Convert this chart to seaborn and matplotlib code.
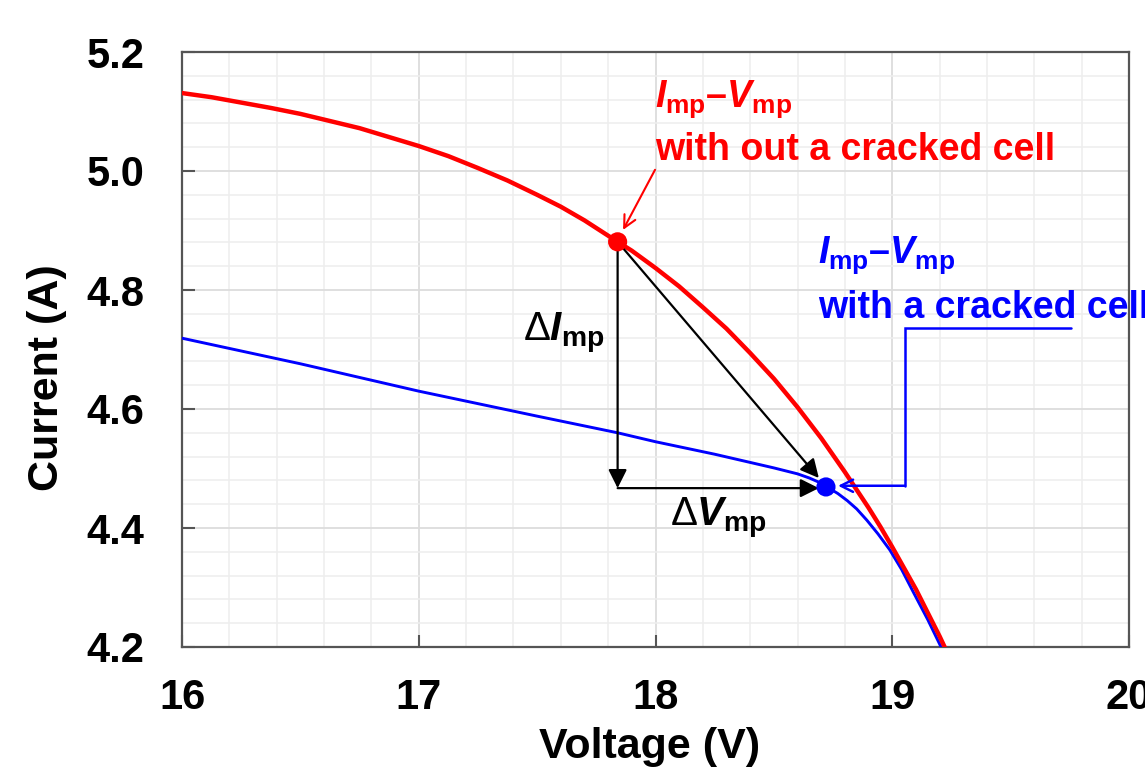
import matplotlib
matplotlib.use("Agg")
import matplotlib.pyplot as plt
import seaborn as sns
import pandas as pd
from matplotlib.ticker import MultipleLocator, FormatStrFormatter

# ---- data ----
red_v = [16.0, 16.125, 16.25, 16.375, 16.5, 16.625, 16.75, 16.875, 17.0, 17.125, 17.25,
         17.375, 17.5, 17.6, 17.7, 17.84, 17.9, 18.0, 18.1, 18.2, 18.3, 18.4, 18.5,
         18.6, 18.7, 18.8, 18.9, 18.95, 19.0, 19.1, 19.2, 19.3]
red_i = [5.131, 5.124, 5.115, 5.106, 5.096, 5.084, 5.072, 5.057, 5.042, 5.025, 5.005,
         4.984, 4.960, 4.940, 4.917, 4.881, 4.866, 4.837, 4.806, 4.771, 4.735, 4.694,
         4.651, 4.603, 4.551, 4.494, 4.434, 4.402, 4.368, 4.297, 4.218, 4.133]

blue_v = [16.0, 16.5, 17.0, 17.5, 17.84, 18.0, 18.25, 18.5, 18.6, 18.65, 18.69, 18.72,
          18.77, 18.81, 18.85, 18.893, 18.94, 18.99, 19.04, 19.088, 19.15, 19.2, 19.25]
blue_i = [4.719, 4.676, 4.630, 4.588, 4.560, 4.545, 4.524, 4.501, 4.491, 4.484, 4.477,
          4.470, 4.458, 4.446, 4.432, 4.413, 4.390, 4.363, 4.330, 4.293, 4.246, 4.205,
          4.163]

mpp_v = [17.84, 18.72]
mpp_i = [4.881, 4.469]
mpp_colors = ["#ff0000", "#0000ff"]

x_ticks = [16, 17, 18, 19, 20]
y_ticks = [4.2, 4.4, 4.6, 4.8, 5.0, 5.2]

# annotation geometry
delta_end_v = 18.69
delta_low_i = 4.467
diag_end_i = 4.484
conn_v = [19.754, 19.054, 19.054]
conn_i = [4.736, 4.736, 4.471]
conn_tip_v = 18.771

sns.set_theme(style="white")
plt.rcParams["font.family"] = ["Liberation Sans", "DejaVu Sans"]
plt.rcParams["font.weight"] = "bold"
plt.rcParams["text.color"] = "black"
plt.rcParams["axes.labelcolor"] = "black"
plt.rcParams["xtick.color"] = "black"
plt.rcParams["ytick.color"] = "black"
plt.rcParams["mathtext.fontset"] = "custom"
plt.rcParams["mathtext.rm"] = "Liberation Sans:weight=bold"
plt.rcParams["mathtext.bf"] = "Liberation Sans:weight=bold"
plt.rcParams["mathtext.it"] = "Liberation Sans:style=italic:weight=bold"
plt.rcParams["mathtext.sf"] = "Liberation Sans:style=normal:weight=normal"

W, H = 1145, 767
fig = plt.figure(figsize=(W / 100, H / 100), dpi=100)
ax = fig.add_axes([182 / W, 1 - 647 / H, (1129 - 182) / W, (647 - 52) / H])

red_df = pd.DataFrame({"V": red_v, "I": red_i})
blue_df = pd.DataFrame({"V": blue_v, "I": blue_i})

sns.lineplot(data=blue_df, x="V", y="I", color="#0000ff", lw=2.1, sort=False,
             estimator=None, ax=ax, zorder=3)
sns.lineplot(data=red_df, x="V", y="I", color="#ff0000", lw=3.2, sort=False,
             estimator=None, ax=ax, zorder=3)

mpp_df = pd.DataFrame({"V": mpp_v, "I": mpp_i, "c": ["red", "blue"]})
sns.scatterplot(data=mpp_df, x="V", y="I", hue="c", palette=mpp_colors, s=190,
                edgecolor="none", legend=False, ax=ax, zorder=6)

ax.set_xlim(16, 20)
ax.set_ylim(4.2, 5.2)
ax.set_xticks(x_ticks)
ax.set_yticks(y_ticks)
ax.yaxis.set_major_formatter(FormatStrFormatter("%.1f"))
ax.xaxis.set_minor_locator(MultipleLocator(0.2))
ax.yaxis.set_minor_locator(MultipleLocator(0.04))
ax.grid(True, which="major", color="#dcdcdc", lw=1.3, zorder=0)
ax.grid(True, which="minor", color="#eeeeee", lw=1.1, zorder=0)
ax.set_axisbelow(True)

for sp in ax.spines.values():
    sp.set_color("#555555")
    sp.set_linewidth(1.6)
    sp.set_visible(True)

ax.tick_params(axis="both", which="major", direction="in", length=9, width=1.5,
               color="#555555", labelcolor="black", labelsize=30, top=False,
               right=False, bottom=True, left=True)
ax.tick_params(axis="x", which="major", pad=22)
ax.tick_params(axis="y", which="major", pad=27)
ax.tick_params(axis="both", which="minor", length=0)
for lab in ax.get_xticklabels() + ax.get_yticklabels():
    lab.set_fontweight("bold")

ax.set_xlabel("Voltage (V)", fontsize=31, fontweight="bold", va="top", color="black")
ax.set_ylabel("Current (A)", fontsize=31, fontweight="bold", color="black")
ax.xaxis.set_label_coords(0.494, -0.1345)
ax.yaxis.set_label_coords(-0.121, 0.453)

# black delta arrows
black_arrow = dict(arrowstyle="-|>", color="black", lw=1.6, mutation_scale=28,
                   shrinkA=0, shrinkB=0)
ax.annotate("", xy=(mpp_v[0], delta_low_i), xytext=(mpp_v[0], mpp_i[0]),
            arrowprops=black_arrow, zorder=5)
ax.annotate("", xy=(delta_end_v, delta_low_i), xytext=(mpp_v[0], delta_low_i),
            arrowprops=black_arrow, zorder=5)
ax.annotate("", xy=(delta_end_v, diag_end_i), xytext=(mpp_v[0], mpp_i[0]),
            arrowprops=black_arrow, zorder=5)

ax.text(17.44, 4.716, r"$\mathsf{\Delta}I_{\mathrm{mp}}$", fontsize=29,
        color="black", ha="left", va="baseline", zorder=7)
ax.text(18.06, 4.405, r"$\mathsf{\Delta}V_{\mathrm{mp}}$", fontsize=29,
        color="black", ha="left", va="baseline", zorder=7)

# red annotation
ax.text(17.998, 5.1076, r"$I_{\mathrm{mp}}$–$V_{\mathrm{mp}}$", fontsize=27,
        color="#ff0000", fontweight="bold", ha="left", va="baseline", zorder=7)
ax.text(17.998, 5.0185, "with out a cracked cell", fontsize=27,
        color="#ff0000", fontweight="bold", ha="left", va="baseline", zorder=7)
ax.annotate("", xy=(17.863, 4.901), xytext=(17.998, 5.002),
            arrowprops=dict(arrowstyle="->", color="#ff0000", lw=1.5,
                            mutation_scale=22, shrinkA=0, shrinkB=0), zorder=5)

# blue annotation
ax.text(18.686, 4.8454, r"$I_{\mathrm{mp}}$–$V_{\mathrm{mp}}$", fontsize=27,
        color="#0000ff", fontweight="bold", ha="left", va="baseline", zorder=7,
        clip_on=False)
ax.text(18.686, 4.753, "with a cracked cell", fontsize=27,
        color="#0000ff", fontweight="bold", ha="left", va="baseline", zorder=7,
        clip_on=False)
ax.plot(conn_v, conn_i, color="#0000ff", lw=1.8, zorder=5, solid_joinstyle="miter")
ax.annotate("", xy=(conn_tip_v, conn_i[-1]), xytext=(conn_v[-1], conn_i[-1]),
            arrowprops=dict(arrowstyle="->", color="#0000ff", lw=1.8,
                            mutation_scale=22, shrinkA=0, shrinkB=0), zorder=5)

fig.savefig("out.png", dpi=100)
